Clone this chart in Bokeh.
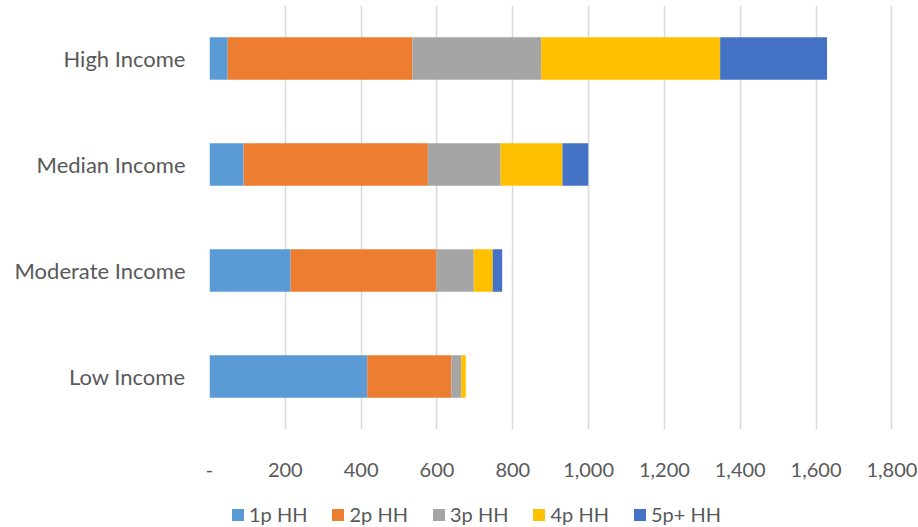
from bokeh.plotting import figure
from bokeh.layouts import column
from bokeh.models import ColumnDataSource, FixedTicker, NumeralTickFormatter, Legend, Range1d, FactorRange
from bokeh.embed import file_html
from bokeh.resources import INLINE

categories = ["Low Income", "Moderate Income", "Median Income", "High Income"]
series_names = ["1p HH", "2p HH", "3p HH", "4p HH", "5p+ HH"]
hh1 = [416, 214, 90, 48]
hh2 = [222, 385, 486, 487]
hh3 = [26, 98, 192, 340]
hh4 = [12, 50, 163, 472]
hh5 = [0, 25, 68, 282]
x_ticks = [0, 200, 400, 600, 800, 1000, 1200, 1400, 1600, 1800]
colors = ["#5B9BD5", "#ED7D31", "#A5A5A5", "#FFC000", "#4472C4"]

keys = ["h1", "h2", "h3", "h4", "h5"]
source = ColumnDataSource(dict(cat=categories, h1=hh1, h2=hh2, h3=hh3, h4=hh4, h5=hh5))

FONT = "Lato"
TXT = "#595959"

fig = figure(width=918, height=490, y_range=FactorRange(*categories), x_range=Range1d(0, 1828),
             output_backend="svg", toolbar_location=None,
             min_border_left=209, min_border_right=16, min_border_top=5, min_border_bottom=61)

fig.hbar_stack(keys, y="cat", height=0.4, color=colors, line_color=None, source=source)

fig.outline_line_color = None
fig.ygrid.grid_line_color = None
fig.xgrid.grid_line_color = "#D9D9D9"
fig.xgrid.grid_line_width = 1.5
fig.xaxis.ticker = FixedTicker(ticks=x_ticks)
fig.xaxis.formatter = NumeralTickFormatter(format="0,0")
fig.xaxis.major_label_overrides = {0: "-"}

for ax in (fig.xaxis[0], fig.yaxis[0]):
    ax.axis_line_color = None
    ax.major_tick_line_color = None
    ax.minor_tick_line_color = None
    ax.major_label_text_font = FONT
    ax.major_label_text_color = TXT
fig.xaxis.major_label_text_font_size = "20px"
fig.yaxis.major_label_text_font_size = "22px"
fig.xaxis.major_label_standoff = 27
fig.yaxis.major_label_standoff = 18

# legend-only strip below the chart (its bars are hidden)
leg = figure(width=918, height=37, y_range=FactorRange(*categories), x_range=Range1d(-2, -1),
             output_backend="svg", toolbar_location=None,
             x_axis_location=None, y_axis_location=None,
             min_border_left=0, min_border_right=0, min_border_top=0, min_border_bottom=0)
leg.grid.visible = False
leg.outline_line_color = None
leg_renderers = leg.hbar_stack(keys, y="cat", height=0.4, color=colors, line_color=None, source=source)
for r in leg_renderers:
    r.visible = False

legend = Legend(items=[(n, [r]) for n, r in zip(series_names, leg_renderers)],
                orientation="horizontal", location=(21, 1),
                label_text_font=FONT, label_text_font_size="20px", label_text_color=TXT,
                glyph_width=15, glyph_height=15, spacing=23, label_standoff=4,
                border_line_color=None, background_fill_alpha=0, padding=0, margin=0)
leg.add_layout(legend, "center")

p = column(fig, leg, spacing=0)

open("out.html", "w").write(file_html(p, INLINE))
